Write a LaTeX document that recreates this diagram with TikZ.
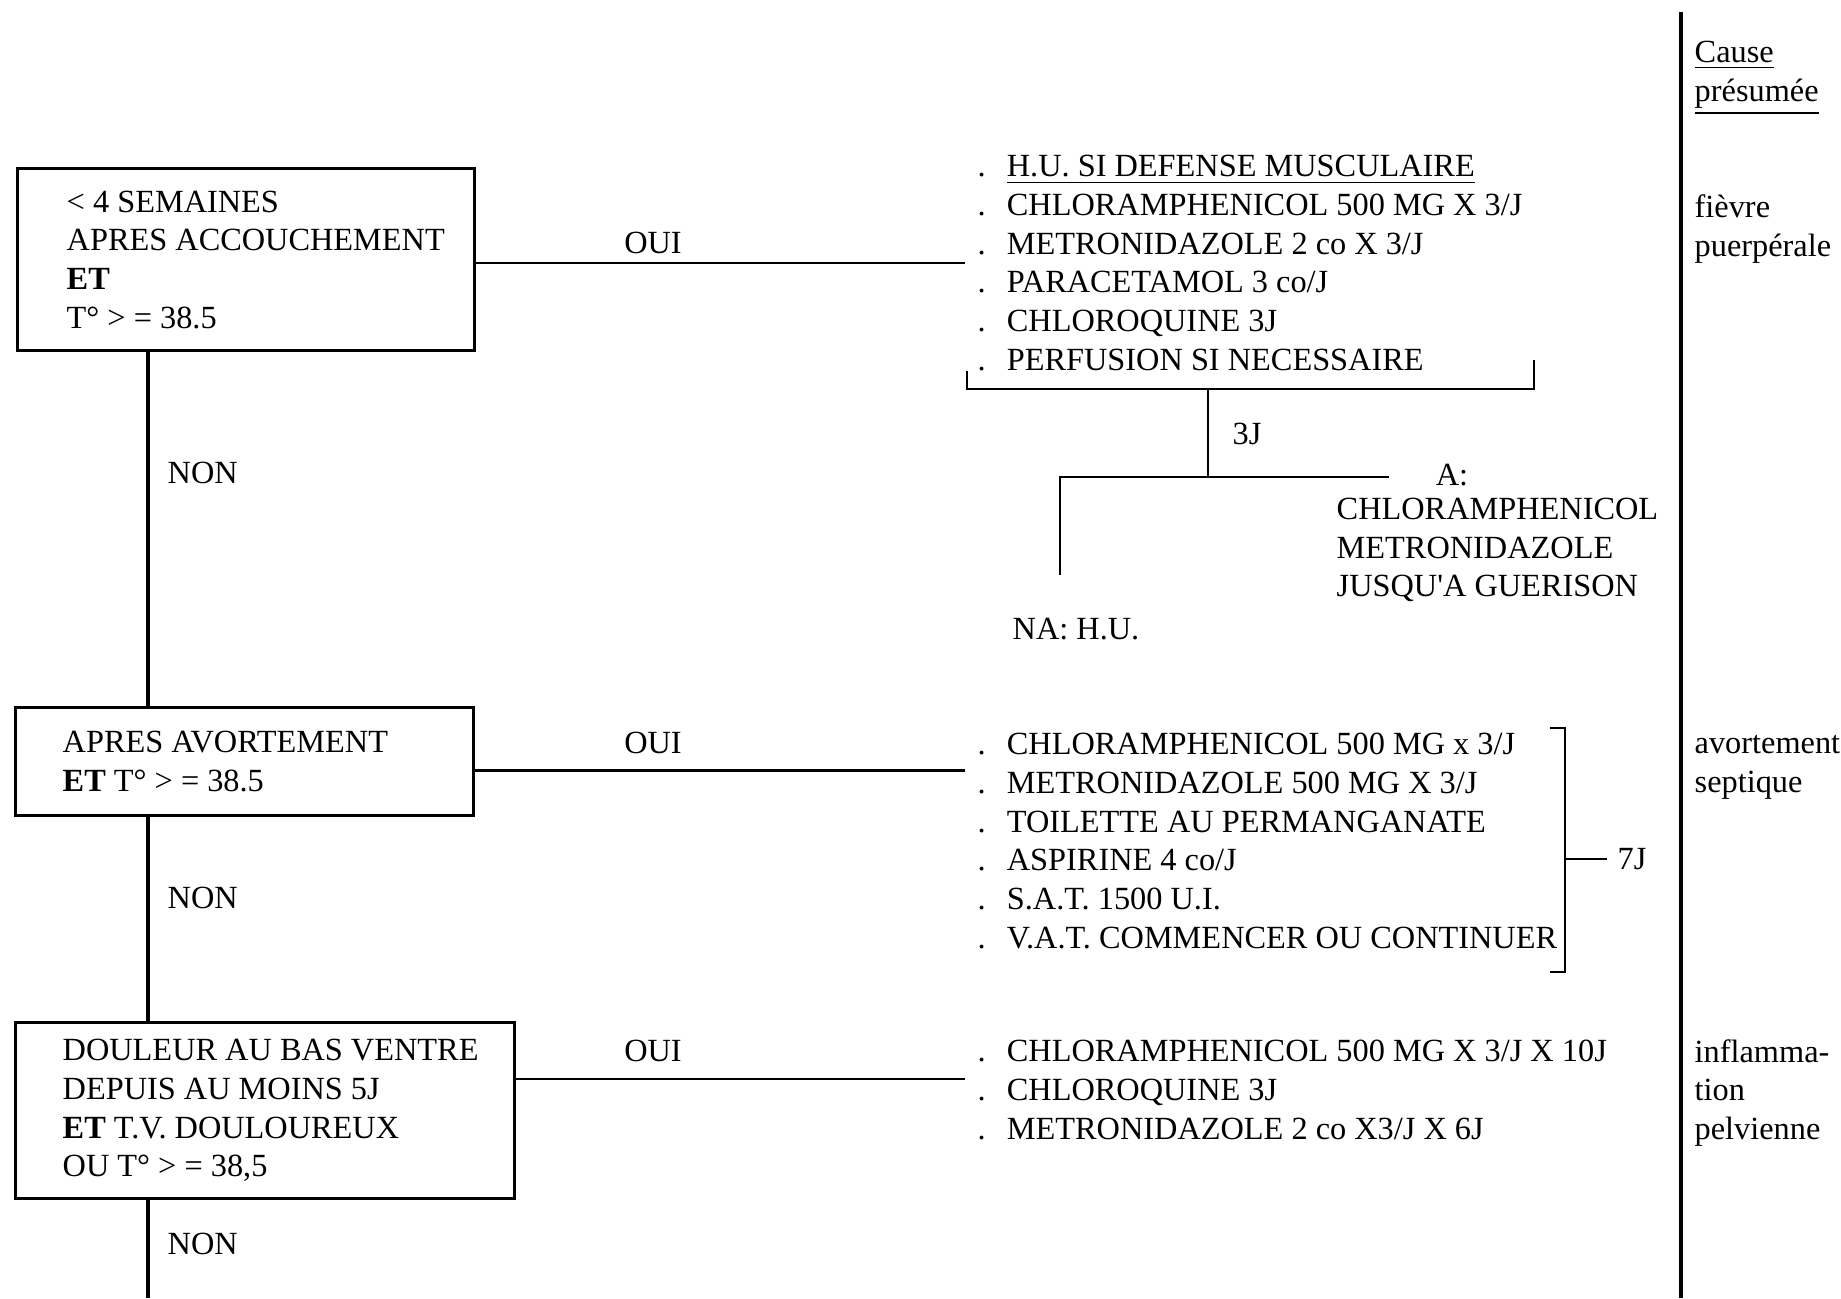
\documentclass[tikz,border=0pt]{standalone}
\usepackage{fontspec}
\setmainfont{Liberation Serif}
\usetikzlibrary{positioning,calc}
\newcommand{\dotitem}[1]{.\hspace{6pt}#1}
\tikzset{
  cond/.style={draw=black,line width=0.9pt,anchor=north west,inner sep=0pt},
  txt/.style={inner sep=0pt,align=left,anchor=west},
  lbl/.style={inner sep=0pt},
  link/.style={draw=black,line width=0.8pt},
  spine/.style={draw=black,line width=0.9pt},
  rule/.style={draw=black,line width=1.1pt}
}

\begin{document}
\begin{tikzpicture}[font=\fontsize{9.2}{11}\selectfont]
  \useasboundingbox (0,0) rectangle (18.41,-12.98);

  % condition boxes
  \node[cond,minimum width=4.57cm,minimum height=1.82cm] (box1) at (0.16,-1.67) {};
  \node[cond,minimum width=4.58cm,minimum height=1.08cm] (box2) at (0.14,-7.06) {};
  \node[cond,minimum width=4.99cm,minimum height=1.76cm] (box3) at (0.14,-10.21) {};
  \node[txt,right=0.50cm of box1.west] (cond1) {< 4 SEMAINES\\APRES ACCOUCHEMENT\\\textbf{ET}\\T° > = 38.5};
  \node[txt,right=0.48cm of box2.west] (cond2) {APRES AVORTEMENT\\\textbf{ET} T° > = 38.5};
  \node[txt,right=0.48cm of box3.west] (cond3) {DOULEUR AU BAS VENTRE\\DEPUIS AU MOINS 5J\\\textbf{ET} T.V. DOULOUREUX\\OU T° > = 38,5};

  % main spine
  \coordinate (spine) at (1.48,-12.98);
  \draw[spine] (box1.south -| spine) -- (box2.north -| spine);
  \draw[spine] (box2.south -| spine) -- (box3.north -| spine);
  \draw[spine] (box3.south -| spine) -- (spine);
  \node[txt] (non1) at (1.67,-4.73) {NON};
  \node[txt] (non2) at (1.67,-8.98) {NON};
  \node[txt] (non3) at (1.67,-12.44) {NON};

  % treatments
  \node[txt,inner xsep=0.12cm] (lista) at (9.65,-2.63) {\dotitem{\underline{H.U. SI DEFENSE MUSCULAIRE}}\\\dotitem{CHLORAMPHENICOL 500 MG X 3/J}\\\dotitem{METRONIDAZOLE 2 co X 3/J}\\\dotitem{PARACETAMOL 3 co/J}\\\dotitem{CHLOROQUINE 3J}\\\dotitem{PERFUSION SI NECESSAIRE}};
  \node[txt,inner xsep=0.12cm] (listb) at (9.65,-8.41) {\dotitem{CHLORAMPHENICOL 500 MG x 3/J}\\\dotitem{METRONIDAZOLE 500 MG X 3/J}\\\dotitem{TOILETTE AU PERMANGANATE}\\\dotitem{ASPIRINE 4 co/J}\\\dotitem{S.A.T. 1500 U.I.}\\\dotitem{V.A.T. COMMENCER OU CONTINUER}};
  \node[txt,inner xsep=0.12cm] (listc) at (9.65,-10.90) {\dotitem{CHLORAMPHENICOL 500 MG X 3/J X 10J}\\\dotitem{CHLOROQUINE 3J}\\\dotitem{METRONIDAZOLE 2 co X3/J X 6J}};

  % OUI branches
  \draw[link] (lista.west -| box1.east) -- (lista.west);
  \draw[link] ([yshift=-0.09cm]box2.east) -- ([yshift=-0.09cm]box2.east -| listb.west);
  \draw[link] ([yshift=0.11cm]listc.west -| box3.east) -- ([yshift=0.11cm]listc.west);
  \node[lbl] (oui1) at (6.53,-2.43) {OUI};
  \node[lbl] (oui2) at (6.53,-7.43) {OUI};
  \node[lbl] (oui3) at (6.53,-10.51) {OUI};

  % follow-up after 3 days
  \coordinate (brl) at (9.67,-3.89);
  \coordinate (brr) at (15.34,-3.89);
  \coordinate (brm) at (12.08,-3.89);
  \coordinate (split) at (12.08,-4.77);
  \coordinate (nal) at (10.60,-4.77);
  \coordinate (ar) at (13.89,-4.77);
  \coordinate (naend) at (10.60,-5.75);
  \draw[link] (9.67,-3.71) -- (brl) -- (brr) -- (15.34,-3.60);
  \draw[link] (brm) -- (split);
  \draw[link] (ar) -- (nal) -- (naend);
  \node[lbl] (three) at (12.47,-4.34) {3J};
  \node[lbl] (alabel) at (14.52,-4.75) {A:};
  \node[txt] (acont) at (13.36,-5.50) {CHLORAMPHENICOL\\METRONIDAZOLE\\JUSQU\textquotesingle A GUERISON};
  \node[txt] (nalabel) at (10.12,-6.29) {NA: H.U.};

  % 7 days bracket
  \coordinate (brt) at (15.65,-7.28);
  \coordinate (brb) at (15.65,-9.72);
  \coordinate (brmid) at (15.65,-8.59);
  \draw[link] (15.50,-7.28) -- (brt) -- (brb) -- (15.50,-9.72);
  \node[lbl] (seven) at (16.32,-8.59) {7J};
  \draw[link] (brmid) -- ([xshift=-0.10cm]seven.west);

  % presumed cause column
  \coordinate (ruletop) at (16.81,-0.12);
  \coordinate (rulebot) at (16.81,-12.98);
  \draw[rule] (ruletop) -- (rulebot);
  \node[txt] (causehead) at (16.94,-0.78) {\underline{Cause}\\\underline{présumée}};
  \node[txt] (cause1) at (16.94,-2.29) {fièvre\\puerpérale};
  \node[txt] (cause2) at (16.94,-7.67) {avortement\\septique};
  \node[txt] (cause3) at (16.94,-10.93) {inflamma-\\tion\\pelvienne};
\end{tikzpicture}
\end{document}
